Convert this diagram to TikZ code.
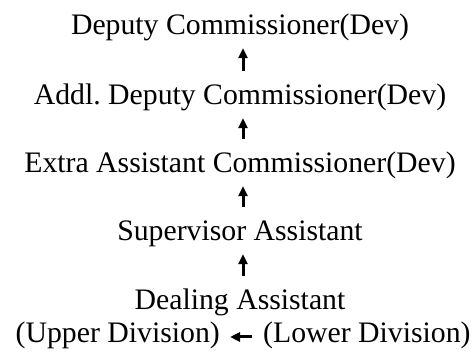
\documentclass[tikz,border=0pt]{standalone}
\usepackage{fontspec}
\setmainfont{Liberation Serif}
\usepackage{tikz}
\usetikzlibrary{arrows.meta}

\begin{document}
\begin{tikzpicture}[x=1pt,y=1pt,
  rank/.style={inner sep=0pt,text height=21pt,text depth=7pt,anchor=base,
    font=\fontsize{29.75pt}{33pt}\selectfont},
  uparrow/.style={line width=3pt,-{Triangle[length=10pt,width=9pt]},
    shorten >=6pt,shorten <=13pt},
  sidearrow/.style={line width=3pt,-{Triangle[length=10pt,width=9pt]},
    shorten >=10pt,shorten <=11pt}]
\useasboundingbox (0,0) rectangle (473,352);

\node[rank] (dc) at (240,317) {Deputy Commissioner(Dev)};
\node[rank] (adc) at (240,247) {Addl.\ Deputy Commissioner(Dev)};
\node[rank] (eac) at (240,179) {Extra Assistant Commissioner(Dev)};
\node[rank] (sa) at (240,111) {Supervisor Assistant};
\node[rank] (da) at (240,42) {Dealing Assistant};

\node[rank,anchor=base east] (ud) at (220,9) {(Upper Division)};
\node[rank,anchor=base west] (ld) at (263,9) {(Lower Division)};

\draw[uparrow] ([xshift=3pt]adc.north) -- ([xshift=3pt]dc.south);
\draw[uparrow] ([xshift=3pt]eac.north) -- ([xshift=3pt]adc.south);
\draw[uparrow] ([xshift=3pt]sa.north) -- ([xshift=3pt]eac.south);
\draw[uparrow] ([xshift=3pt]da.north) -- ([xshift=3pt]sa.south);

\draw[sidearrow] ([yshift=-1pt]ld.west) -- ([yshift=-1pt]ud.east);

\end{tikzpicture}
\end{document}
